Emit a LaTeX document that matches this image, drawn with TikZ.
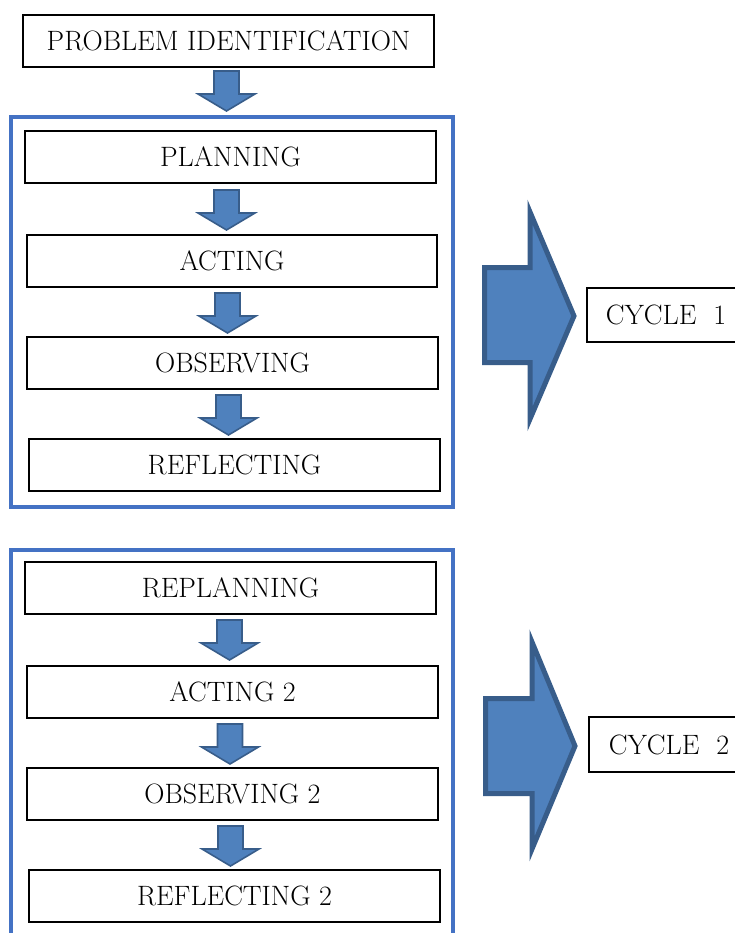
\documentclass[tikz,border=0pt]{standalone}
\definecolor{frameblue}{HTML}{4472C4}
\definecolor{arrowfill}{HTML}{4F81BD}
\definecolor{arrowline}{HTML}{385D8A}
\newcommand{\smallarrow}[2]{%
  \draw[smallarr] (#1-12.5,#2) -- (#1+12.5,#2) -- (#1+12.5,#2+23) -- (#1+28.5,#2+23)
    -- (#1,#2+40) -- (#1-28.5,#2+23) -- (#1-12.5,#2+23) -- cycle;}
\begin{document}
\begin{tikzpicture}[x=1pt,y=-1pt,
  box/.style={draw=black, line width=1.2pt, minimum height=52pt, inner sep=0pt,
    font=\fontsize{28}{32}\selectfont},
  frame/.style={draw=frameblue, line width=3.5pt},
  smallarr/.style={fill=arrowfill, draw=arrowline, line width=1.6pt, line join=miter},
  bigarr/.style={fill=arrowfill, draw=arrowline, line width=5pt, line join=miter}]
\useasboundingbox (0,0) rectangle (735,933);
\clip (0,0) rectangle (735,933);
% frames
\draw[frame] (11,117) rectangle (453,507);
\draw[frame] (11,550) rectangle (453,960);
% boxes
\node[box, minimum width=411pt] (pi) at (228.5,41) {PROBLEM IDENTIFICATION\hspace{10pt}};
\node[box, minimum width=411pt] (plan) at (230.5,157) {PLANNING};
\node[box, minimum width=410pt] (act) at (232,261) {ACTING};
\node[box, minimum width=411pt] (obs) at (232.5,363) {OBSERVING};
\node[box, minimum width=411pt] (refl) at (234.5,465) {REFLECTING};
\node[box, minimum width=411pt] (replan) at (230.5,588) {REPLANNING};
\node[box, minimum width=411pt] (act2) at (232.5,692) {ACTING 2};
\node[box, minimum width=411pt] (obs2) at (232.5,794) {OBSERVING 2};
\node[box, minimum width=411pt] (refl2) at (234.5,896) {REFLECTING 2};
\node[box, minimum width=158pt, minimum height=54pt] (cyc1) at (666,315) {CYCLE\ \ 1};
\node[box, minimum width=160pt, minimum height=55pt] (cyc2) at (669,744.5) {CYCLE\ \ 2};
% small block arrows
\smallarrow{226.5}{71}
\smallarrow{226.5}{190}
\smallarrow{227.5}{293}
\smallarrow{228.5}{395}
\smallarrow{229.5}{620}
\smallarrow{230}{724}
\smallarrow{230.5}{826}
% big block arrows
\draw[bigarr] (484.5,267.5) -- (530,267.5) -- (530,212) -- (574,316) -- (530,419) -- (530,362.5) -- (484.5,362.5) -- cycle;
\draw[bigarr] (485.5,698.5) -- (532,698.5) -- (532,642) -- (575,746) -- (532,849) -- (532,793.5) -- (485.5,793.5) -- cycle;
\end{tikzpicture}
\end{document}
